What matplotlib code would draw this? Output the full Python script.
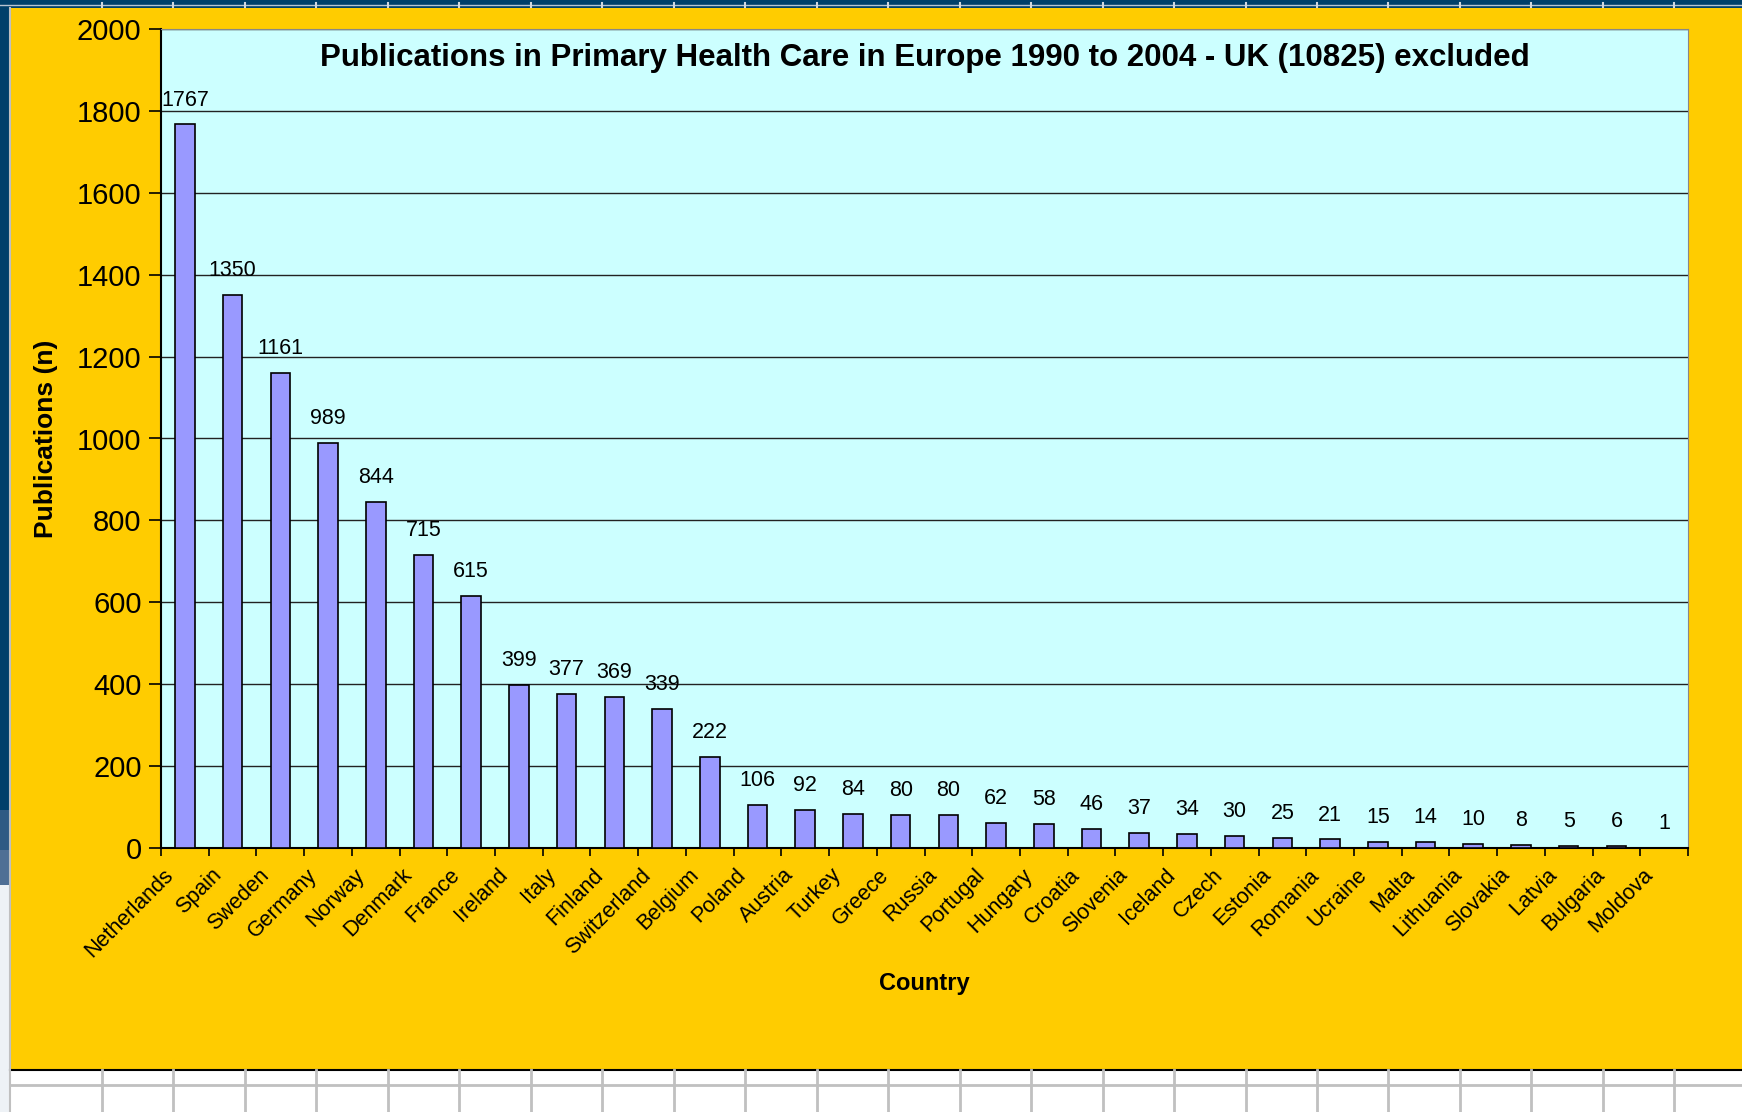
import numpy as np
import matplotlib.pyplot as plt
from matplotlib.patches import Rectangle

plt.rcParams['font.family'] = ['Liberation Sans', 'DejaVu Sans']

# DATA
countries = ['Netherlands', 'Spain', 'Sweden', 'Germany', 'Norway', 'Denmark', 'France',
             'Ireland', 'Italy', 'Finland', 'Switzerland', 'Belgium', 'Poland', 'Austria',
             'Turkey', 'Greece', 'Russia', 'Portugal', 'Hungary', 'Croatia', 'Slovenia',
             'Iceland', 'Czech', 'Estonia', 'Romania', 'Ucraine', 'Malta', 'Lithuania',
             'Slovakia', 'Latvia', 'Bulgaria', 'Moldova']
publications = [1767, 1350, 1161, 989, 844, 715, 615, 399, 377, 369, 339, 222, 106, 92,
                84, 80, 80, 62, 58, 46, 37, 34, 30, 25, 21, 15, 14, 10, 8, 5, 6, 1]
yticks = [0, 200, 400, 600, 800, 1000, 1200, 1400, 1600, 1800, 2000]

title = 'Publications in Primary Health Care in Europe 1990 to 2004 - UK (10825) excluded'

W, H = 1742, 1112
fig = plt.figure(figsize=(W / 100, H / 100), dpi=100)
fig.patch.set_facecolor('#FFCC00')

# background decoration (slide frame + spreadsheet grid), in pixel coords
bg = fig.add_axes([0, 0, 1, 1], zorder=-5)
bg.set_xlim(0, W)
bg.set_ylim(H, 0)
bg.axis('off')
bg.add_patch(Rectangle((0, 0), W, 8, color='#00406A', lw=0))
bg.add_patch(Rectangle((0, 0), 10, 810, color='#00406A', lw=0))
bg.add_patch(Rectangle((0, 810), 10, 40, color='#2F5A84', lw=0))
bg.add_patch(Rectangle((0, 850), 10, 35, color='#4F6F95', lw=0))
bg.add_patch(Rectangle((0, 885), 10, 227, color='#EEF2F6', lw=0))
bg.plot([0, W], [5, 5], color='#B8C4D0', lw=1)
bg.add_patch(Rectangle((10, 1070), W, 42, color='white', lw=0))
bg.plot([10, W], [1070, 1070], color='black', lw=1.5)
bg.plot([10, W], [1085, 1085], color='#C0C0C0', lw=2)
bg.plot([10, 10], [8, 1112], color='#C0C0C0', lw=1.5)
for k in range(23):
    xk = 102 + 71.47 * k
    bg.plot([xk, xk], [1070, 1112], color='#C0C0C0', lw=2)
    bg.plot([xk, xk], [3, 7], color='#D0D8E0', lw=1.5)

# MAIN CHART
ax = fig.add_axes([161 / W, 1 - 848 / H, (1688 - 161) / W, (848 - 29) / H])
ax.set_facecolor('#CCFFFF')

x = np.arange(len(countries))
ax.bar(x, publications, width=0.41, color='#9999FF', edgecolor='black', linewidth=1.2, zorder=3)

for xi, v in zip(x, publications):
    ax.annotate(str(v), (xi, v), xytext=(0, 10), textcoords='offset points',
                ha='center', va='bottom', fontsize=15.5)

ax.set_xlim(-0.5, len(countries) - 0.5)
ax.set_ylim(0, 2000)
ax.set_yticks(yticks)
ax.set_yticklabels([str(t) for t in yticks], fontsize=21)
ax.yaxis.grid(True, color='#222222', lw=1)
ax.set_axisbelow(True)

# labels sit a little left of the bar centre, as in Excel's rotated labels
ax.set_xticks(x - 0.46)
ax.set_xticklabels(countries, rotation=45, ha='right', va='top', rotation_mode='anchor', fontsize=15.5)
ax.set_xticks(np.arange(len(countries) + 1) - 0.5, minor=True)
ax.tick_params(axis='x', which='major', length=0, pad=12)
ax.tick_params(axis='x', which='minor', length=6, width=1.2, direction='out')
ax.tick_params(axis='y', length=9, width=1.2, direction='out', pad=5)

for s in ['top', 'right']:
    ax.spines[s].set_color('#888888')
for s in ['left', 'bottom']:
    ax.spines[s].set_color('black')
    ax.spines[s].set_linewidth(1.5)

ax.text(0.5, 0.964, title, transform=ax.transAxes, ha='center', va='center',
        fontsize=22.5, fontweight='bold')
ax.set_xlabel('Country', fontsize=17, fontweight='bold')
ax.xaxis.set_label_coords(0.5, -0.152)
ax.set_ylabel('Publications (n)', fontsize=19, fontweight='bold')
ax.yaxis.set_label_coords(-0.0675, 0.5)

fig.savefig('out.png', dpi=100, facecolor=fig.get_facecolor())
